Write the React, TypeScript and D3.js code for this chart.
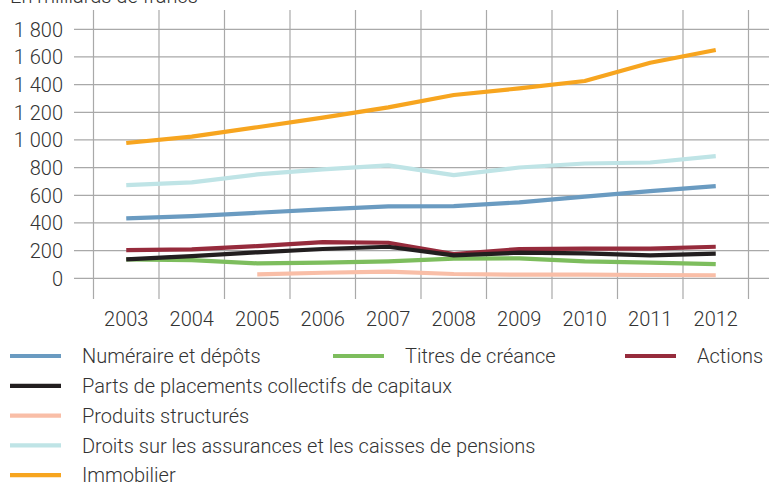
import * as d3 from "d3";

const years = ["2003", "2004", "2005", "2006", "2007", "2008", "2009", "2010", "2011", "2012"];
const yTicks = [0, 200, 400, 600, 800, 1000, 1200, 1400, 1600, 1800];

const numeraire = [433, 450, 474, 498, 520, 522, 549, 590, 630, 666];
const titres = [137, 132, 108, 113, 123, 142, 144, 123, 113, 103];
const actions = [204, 209, 233, 262, 257, 175, 211, 214, 214, 228];
const parts = [137, 161, 188, 212, 228, 166, 185, 180, 166, 178];
const produits: (number | null)[] = [null, null, 29, 40, 48, 31, 26, 26, 24, 22];
const droits = [674, 693, 751, 787, 816, 746, 801, 830, 837, 883];
const immobilier = [978, 1024, 1092, 1161, 1236, 1325, 1373, 1426, 1558, 1650];

const series = [
  { name: "Numéraire et dépôts", color: "#6a9bc1", values: numeraire },
  { name: "Titres de créance", color: "#7dbd5d", values: titres },
  { name: "Actions", color: "#962b3c", values: actions },
  { name: "Parts de placements collectifs de capitaux", color: "#221e1f", values: parts },
  { name: "Produits structurés", color: "#f9bea7", values: produits },
  { name: "Droits sur les assurances et les caisses de pensions", color: "#bfe4e6", values: droits },
  { name: "Immobilier", color: "#f7a51f", values: immobilier },
];

const FONT = "Roboto, 'Liberation Sans', sans-serif";

export default function App() {
  const width = 769;
  const height = 486;

  const x = d3.scaleBand().domain(years).range([93.5, 748.5]);
  const y = d3.scaleLinear().domain([0, 1800]).range([278.3, 29.3]);
  const cx = (yr: string) => (x(yr) ?? 0) + x.bandwidth() / 2;

  const line = d3
    .line<number | null>()
    .defined((d) => d != null)
    .x((_, i) => cx(years[i]))
    .y((d) => y(d as number));

  // legend placement: first row has three columns, the rest one each
  const legendRows = [
    [0, 1, 2],
    [3],
    [4],
    [5],
    [6],
  ];
  const colX = [10, 333, 625];

  return (
    <svg
      width={width}
      height={height}
      style={{ position: "absolute", left: 0, top: 0, background: "#fff" }}
      fontFamily={FONT}
    >
      <text x={10} y={3} fontSize={20} fontWeight={300} fill="#333">
        En milliards de francs
      </text>

      {/* grid */}
      {yTicks.map((t) => (
        <line key={"h" + t} x1={74} x2={width} y1={y(t)} y2={y(t)} stroke="#a9a9a9" strokeWidth={1.2} />
      ))}
      {[...years.map((yr) => x(yr) ?? 0), 748.5].map((gx, i) => (
        <line key={"v" + i} x1={gx} x2={gx} y1={10} y2={299} stroke="#a9a9a9" strokeWidth={1.2} />
      ))}

      {/* y labels */}
      {yTicks.map((t) => (
        <text
          key={"yl" + t}
          x={63}
          y={y(t)}
          dy="0.36em"
          textAnchor="end"
          fontSize={20}
          fontWeight={300}
          fill="#333"
        >
          {d3.format(",")(t).replace(/,/g, " ")}
        </text>
      ))}

      {/* x labels */}
      {years.map((yr) => (
        <text key={"xl" + yr} x={cx(yr)} y={326} textAnchor="middle" fontSize={20} fontWeight={300} fill="#333">
          {yr}
        </text>
      ))}

      {/* lines */}
      {series.map((s) => (
        <path
          key={s.name}
          d={line(s.values) ?? ""}
          fill="none"
          stroke={s.color}
          strokeWidth={4.2}
          strokeLinejoin="round"
        />
      ))}

      {/* legend */}
      {legendRows.map((row, ri) =>
        row.map((si, ci) => {
          const ly = 356 + ri * 29.8;
          const lx = colX[ci];
          const s = series[si];
          return (
            <g key={"lg" + si}>
              <line x1={lx} x2={lx + 51} y1={ly} y2={ly} stroke={s.color} strokeWidth={4.2} />
              <text x={lx + 72} y={ly} dy="0.36em" fontSize={20} fontWeight={300} fill="#333">
                {s.name}
              </text>
            </g>
          );
        })
      )}
    </svg>
  );
}
